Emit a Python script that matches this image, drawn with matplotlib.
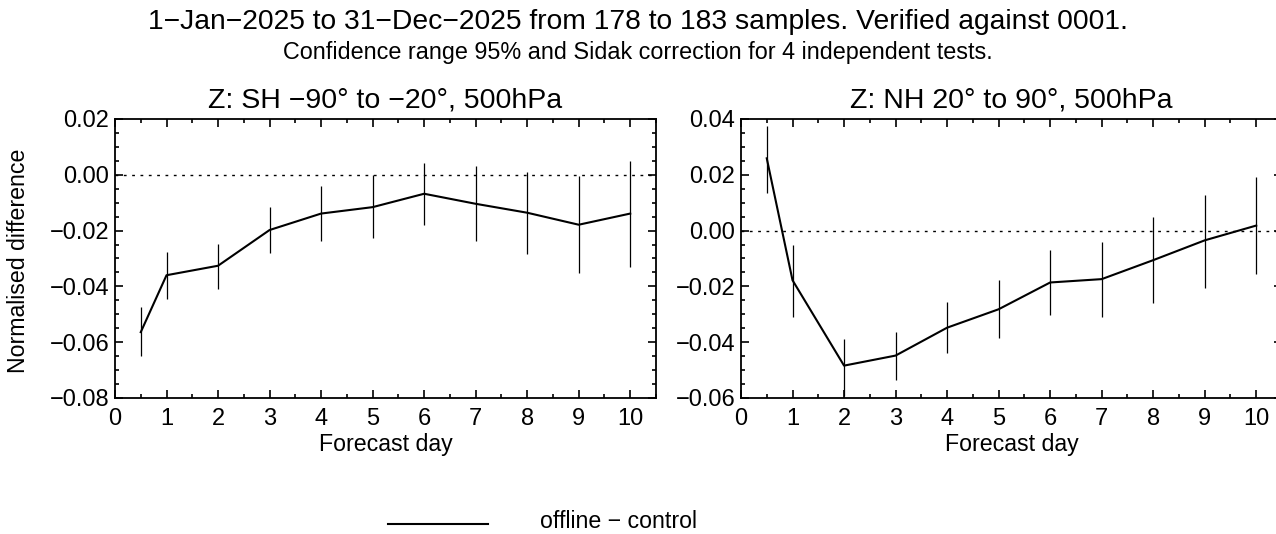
import matplotlib
matplotlib.use("Agg")
import matplotlib.pyplot as plt
from matplotlib.ticker import MultipleLocator, FuncFormatter

plt.rcParams['font.family'] = ['Liberation Sans', 'DejaVu Sans']

# forecast days
days = [0.5, 1, 2, 3, 4, 5, 6, 7, 8, 9, 10]

# Southern hemisphere: mean and confidence interval
sh_mean = [-0.0564, -0.036, -0.0326, -0.0198, -0.0139, -0.0116, -0.0068, -0.0104, -0.0136, -0.0179, -0.0139]
sh_low = [-0.0648, -0.0447, -0.0408, -0.028, -0.0238, -0.0225, -0.0179, -0.0236, -0.0283, -0.0351, -0.033]
sh_high = [-0.0475, -0.0276, -0.0247, -0.0116, -0.0042, -0.0002, 0.0044, 0.003, 0.0009, -0.0006, 0.0051]

# Northern hemisphere
nh_mean = [0.0259, -0.0178, -0.0484, -0.0448, -0.0348, -0.0282, -0.0186, -0.0174, -0.0106, -0.0035, 0.0018]
nh_low = [0.0136, -0.0309, -0.0594, -0.0537, -0.0437, -0.0386, -0.0303, -0.0309, -0.0261, -0.0204, -0.0156]
nh_high = [0.0376, -0.0053, -0.0388, -0.0362, -0.0257, -0.0178, -0.007, -0.0041, 0.0049, 0.0126, 0.0191]

panels = [
    ("Z: SH \u221290\u00b0 to \u221220\u00b0, 500hPa", sh_mean, sh_low, sh_high, (-0.08, 0.02)),
    ("Z: NH 20\u00b0 to 90\u00b0, 500hPa", nh_mean, nh_low, nh_high, (-0.06, 0.04)),
]


def fmt(v, pos):
    s = "%.2f" % v
    if s == "-0.00":
        s = "0.00"
    return s.replace("-", "\u2212")


fig = plt.figure(figsize=(12.76, 5.34), dpi=100)
fig.text(0.5, 1 - 22 / 534, "1\u2212Jan\u22122025 to 31\u2212Dec\u22122025 from 178 to 183 samples. Verified against 0001.",
         ha='center', va='center', fontsize=20.3)
fig.text(0.5, 1 - 53 / 534, "Confidence range 95% and Sidak correction for 4 independent tests.",
         ha='center', va='center', fontsize=16.8)

lefts = [115 / 1276, 741 / 1276]
for i, (title, mean, low, high, ylim) in enumerate(panels):
    ax = fig.add_axes([lefts[i], 0.2547, 541 / 1276, 0.5225])
    ax.axhline(0, color='black', linestyle=(0, (2, 4)), linewidth=1)
    ax.vlines(days, low, high, color='black', linewidth=0.9)
    ax.plot(days, mean, color='black', linewidth=1.5)
    ax.set_xlim(0, 10.5)
    ax.set_ylim(*ylim)
    ax.xaxis.set_major_locator(MultipleLocator(1))
    ax.xaxis.set_minor_locator(MultipleLocator(0.5))
    ax.yaxis.set_major_locator(MultipleLocator(0.02))
    ax.yaxis.set_minor_locator(MultipleLocator(0.005))
    ax.yaxis.set_major_formatter(FuncFormatter(fmt))
    ax.tick_params(which='both', direction='in', top=True, right=True, labelsize=17, width=1.2)
    ax.tick_params(which='major', length=6)
    ax.tick_params(axis='x', which='major', pad=7)
    ax.tick_params(axis='y', which='major', pad=4)
    ax.tick_params(which='minor', length=3)
    for s in ax.spines.values():
        s.set_linewidth(1.3)
    ax.set_title(title, fontsize=20.5, pad=8)
    ax.set_xlabel("Forecast day", fontsize=16.7, va='center')
    ax.xaxis.set_label_coords(0.5, (398 - 445) / 279)
    if i == 0:
        ax.set_ylabel("Normalised difference", fontsize=16.7)
        ax.yaxis.set_label_coords(-0.158, 0.49)

# legend line at the bottom
fig.add_artist(plt.Line2D([388 / 1276, 488 / 1276], [1 - 524 / 534] * 2, color='black', linewidth=1.5))
fig.text(540 / 1276, 1 - 522 / 534, "offline \u2212 control", ha='left', va='center', fontsize=16.7)

fig.savefig("out.png", dpi=100)
